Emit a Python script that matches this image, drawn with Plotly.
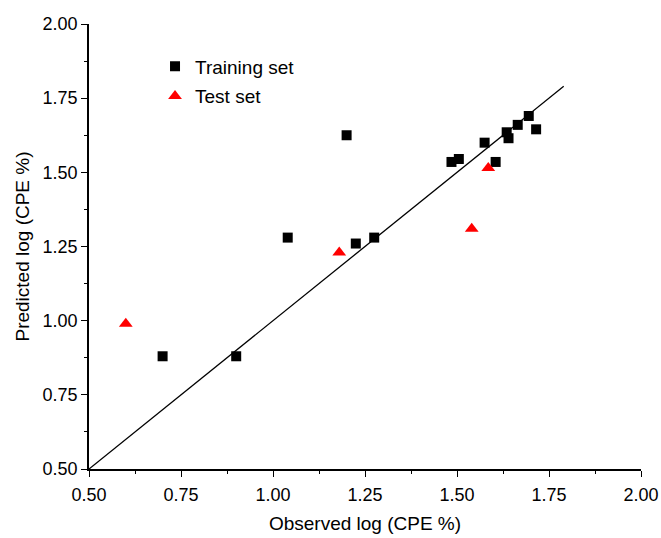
import plotly.graph_objects as go

train_x = [0.70, 0.90, 1.04, 1.20, 1.225, 1.275, 1.485, 1.505, 1.575, 1.605, 1.635, 1.64, 1.665, 1.695, 1.715]
train_y = [0.88, 0.88, 1.28, 1.625, 1.26, 1.28, 1.535, 1.545, 1.60, 1.535, 1.635, 1.615, 1.66, 1.69, 1.645]
test_x = [0.60, 1.18, 1.54, 1.585]
test_y = [0.99, 1.23, 1.31, 1.515]
line_x = [0.50, 1.79]
line_y = [0.50, 1.79]
ticks = [0.50, 0.75, 1.00, 1.25, 1.50, 1.75, 2.00]
tick_labels = ["0.50", "0.75", "1.00", "1.25", "1.50", "1.75", "2.00"]

font = "Liberation Sans, Arial, Helvetica, sans-serif"

fig = go.Figure()
fig.add_trace(go.Scatter(x=line_x, y=line_y, mode="lines",
                         line=dict(color="black", width=1.3), showlegend=False, hoverinfo="skip"))
fig.add_trace(go.Scatter(x=train_x, y=train_y, mode="markers", name="Training set", legendgroup="train",
                         marker=dict(symbol="square", size=10, color="black")))
fig.add_trace(go.Scatter(x=test_x, y=test_y, mode="markers", name="Test set", legendgroup="test",
                         marker=dict(symbol="triangle-up", size=12, color="red")))

axis_common = dict(
    range=[0.5, 2.0], tickvals=ticks, ticktext=tick_labels,
    showgrid=False, zeroline=False, showline=True, linecolor="black", linewidth=1.5,
    ticks="outside", ticklen=6, tickwidth=1.3, tickcolor="black",
    minor=dict(dtick=0.125, tick0=0.5, ticks="outside", ticklen=3, tickwidth=1.3, tickcolor="black", showgrid=False),
    tickfont=dict(family=font, size=18, color="black"),
    automargin=False,
)

fig.update_layout(
    width=661, height=538, autosize=False,
    margin=dict(l=89, r=20, t=24, b=69),
    paper_bgcolor="white", plot_bgcolor="white",
    xaxis=dict(**axis_common, ticklabeloverflow="allow", ticklabelstandoff=3,
               title=dict(text="Observed log (CPE %)", font=dict(family=font, size=19, color="black"), standoff=12)),
    yaxis=dict(**axis_common,
               title=dict(text="Predicted log (CPE %)", font=dict(family=font, size=19, color="black"), standoff=8)),
    legend=dict(x=0.1196, y=0.9475, xanchor="left", yanchor="top", bgcolor="rgba(0,0,0,0)",
                font=dict(family=font, size=19, color="black"), tracegroupgap=2),
    showlegend=True,
)

fig.write_html("out.html", config={"displayModeBar": False},
               post_script="document.body.style.margin='0';document.body.style.padding='0';")
